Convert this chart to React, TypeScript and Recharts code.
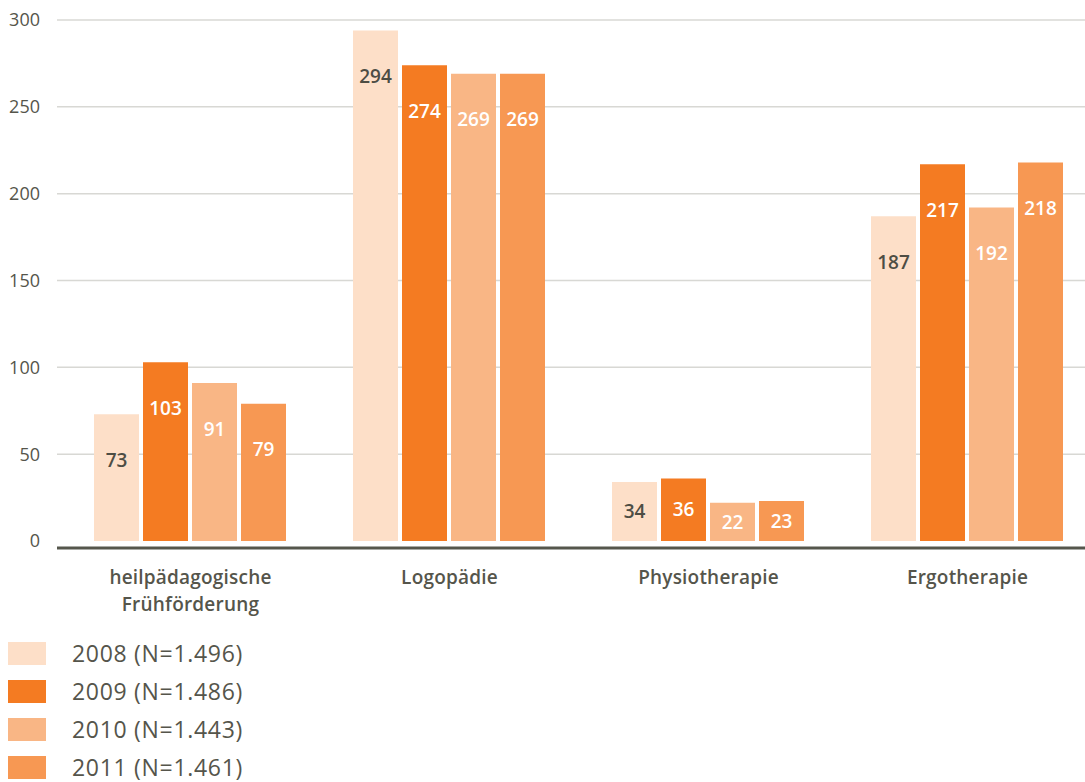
import { BarChart, Bar, XAxis, YAxis, CartesianGrid, LabelList } from 'recharts'

const categories = ['heilpädagogische\nFrühförderung', 'Logopädie', 'Physiotherapie', 'Ergotherapie']
const values2008 = [73, 294, 34, 187]
const values2009 = [103, 274, 36, 217]
const values2010 = [91, 269, 22, 192]
const values2011 = [79, 269, 23, 218]
const yTicks = [0, 50, 100, 150, 200, 250, 300]

const series = [
  { key: 'y2008', name: '2008 (N=1.496)', values: values2008, color: '#fddfc8', label: '#4d4d44' },
  { key: 'y2009', name: '2009 (N=1.486)', values: values2009, color: '#f47b22', label: '#ffffff' },
  { key: 'y2010', name: '2010 (N=1.443)', values: values2010, color: '#f9b685', label: '#ffffff' },
  { key: 'y2011', name: '2011 (N=1.461)', values: values2011, color: '#f79853', label: '#ffffff' },
]

const data = categories.map((name, i) => {
  const row: Record<string, any> = { name }
  series.forEach((s) => {
    row[s.key] = s.values[i]
  })
  return row
})

const textColor = '#55554b'
const font = "'Open Sans', sans-serif"

function CategoryTick({ x, y, payload }: any) {
  const lines = String(payload.value).split('\n')
  return (
    <text
      x={x}
      y={y}
      textAnchor="middle"
      fill={textColor}
      fontSize={19}
      fontWeight={600}
      fontFamily={font}
      letterSpacing={0.2}
    >
      {lines.map((line, i) => (
        <tspan key={i} x={x} dy={i === 0 ? 36 : 27}>
          {line}
        </tspan>
      ))}
    </text>
  )
}

function valueLabel(color: string) {
  return (props: any) => {
    const { x, y, width, height, value } = props
    const cy = y + Math.min(46, height / 2)
    return (
      <text
        x={x + width / 2}
        y={cy}
        dy="0.35em"
        textAnchor="middle"
        fill={color}
        fontSize={19}
        fontWeight={600}
        fontFamily={font}
      >
        {value}
      </text>
    )
  }
}

export default function App() {
  return (
    <div
      style={{
        position: 'absolute',
        top: 0,
        left: 0,
        width: 1085,
        height: 782,
        overflow: 'hidden',
        background: '#ffffff',
        fontFamily: font,
      }}
    >
      <BarChart
        width={1100}
        height={640}
        data={data}
        margin={{ top: 20, right: 0, bottom: 32, left: 0 }}
        barCategoryGap={33}
        barGap={4}
      >
        <CartesianGrid
          vertical={false}
          horizontalValues={yTicks.filter((t) => t > 0)}
          stroke="#d8d8d4"
          strokeWidth={1.5}
        />
        <YAxis
          type="number"
          domain={[-4, 300]}
          ticks={yTicks}
          width={57}
          axisLine={false}
          tickLine={false}
          tickSize={0}
          tickMargin={17}
          tick={{ fill: textColor, fontSize: 18, fontFamily: font }}
        />
        <XAxis
          dataKey="name"
          height={60}
          interval={0}
          padding={{ left: 4, right: 3 }}
          axisLine={{ stroke: '#55564c', strokeWidth: 3 }}
          tickLine={false}
          tickSize={0}
          tickMargin={0}
          tick={<CategoryTick />}
        />
        {series.map((s) => (
          <Bar key={s.key} dataKey={s.key} name={s.name} fill={s.color} isAnimationActive={false}>
            <LabelList dataKey={s.key} content={valueLabel(s.label)} />
          </Bar>
        ))}
      </BarChart>
      <div style={{ position: 'absolute', left: 8, top: 642 }}>
        {series.map((s) => (
          <div key={s.key} style={{ display: 'flex', alignItems: 'center', height: 23, marginBottom: 15 }}>
            <div style={{ width: 38, height: 23, background: s.color }} />
            <span
              style={{
                marginLeft: 26,
                fontSize: 23,
                letterSpacing: 0.7,
                color: textColor,
                lineHeight: '23px',
              }}
            >
              {s.name}
            </span>
          </div>
        ))}
      </div>
    </div>
  )
}
